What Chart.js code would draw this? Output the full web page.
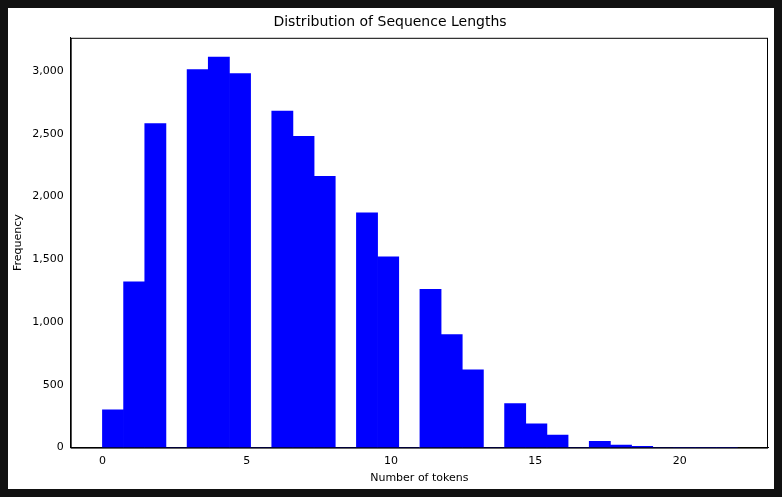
<!DOCTYPE html>
<html>
<head>
<meta charset="utf-8">
<script src="https://cdn.jsdelivr.net/npm/chart.js@4/dist/chart.umd.min.js"></script>
<style>
  html, body { margin: 0; padding: 0; background: #111; }
  #wrap { position: absolute; left: 8px; top: 8px; width: 766px; height: 481px; background: #fff; }
</style>
</head>
<body>
<div id="wrap"><canvas id="chart"></canvas></div>
<script>
// histogram of token counts, 30 bins over 0..22
const dataMin = 0;
const dataMax = 22;
const binCount = 30;
const binCounts = [300, 1320, 2580, 0, 3010, 3110, 2980, 0, 2680, 2480, 2160, 0, 1870, 1520, 0,
                   1260, 900, 620, 0, 350, 190, 100, 0, 50, 20, 10, 0, 2, 2, 2];
const xTicks = [0, 5, 10, 15, 20];
const yTicks = [0, 500, 1000, 1500, 2000, 2500, 3000];

const binWidth = (dataMax - dataMin) / binCount;
const points = binCounts.map((c, i) => ({ x: dataMin + (i + 0.5) * binWidth, y: c }));

const tickFont = { family: 'DejaVu Sans', size: 11 };

new Chart(document.getElementById('chart'), {
  type: 'bar',
  data: {
    datasets: [{
      data: points,
      backgroundColor: '#0000ff',
      barPercentage: 1,
      categoryPercentage: 1,
      borderWidth: 0
    }]
  },
  options: {
    responsive: true,
    maintainAspectRatio: false,
    animation: false,
    layout: { padding: { left: 4, right: 6, top: 0, bottom: 4 } },
    plugins: {
      legend: { display: false },
      tooltip: { enabled: false },
      title: {
        display: true,
        text: 'Distribution of Sequence Lengths',
        color: '#000',
        font: { family: 'DejaVu Sans', size: 14, weight: 'normal' },
        padding: { top: 6, bottom: 7 }
      }
    },
    scales: {
      x: {
        type: 'linear',
        offset: false,
        min: -1.1,
        max: 23.06,
        afterBuildTicks: ax => { ax.ticks = xTicks.map(v => ({ value: v })); },
        grid: { display: false, drawTicks: true, tickLength: 4 },
        border: { color: '#000' },
        ticks: { color: '#000', font: tickFont, padding: 3 },
        title: { display: true, text: 'Number of tokens', color: '#000', font: tickFont, padding: { top: 1, bottom: 0 } }
      },
      y: {
        min: 0,
        max: 3264,
        afterBuildTicks: ax => { ax.ticks = yTicks.map(v => ({ value: v })); },
        grid: { display: false, drawTicks: true, tickLength: 4 },
        border: { color: '#000' },
        ticks: { color: '#000', font: tickFont, padding: 3 },
        title: { display: true, text: 'Frequency', color: '#000', font: tickFont, padding: { top: 0, bottom: 4 } }
      }
    }
  },
  plugins: [{
    id: 'frame',
    afterDraw(chart) {
      const { ctx, chartArea: a } = chart;
      ctx.save();
      ctx.strokeStyle = '#000';
      ctx.lineWidth = 1;
      ctx.strokeRect(a.left + 0.5, a.top + 0.5, a.right - a.left - 1, a.bottom - a.top);
      ctx.restore();
    }
  }]
});
</script>
</body>
</html>
